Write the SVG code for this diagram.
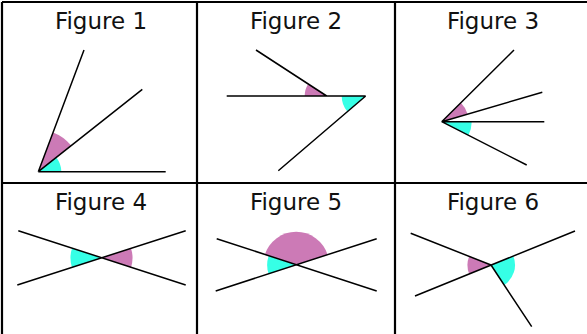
<svg xmlns="http://www.w3.org/2000/svg" width="587" height="334" viewBox="0 0 587 334">
<style>
.grid{stroke:#000;stroke-width:2.2;fill:none}
.ln{stroke:#000;stroke-width:1.5;fill:none;stroke-linecap:butt}
.c{fill:#36FFE6}
.m{fill:#CC7AB6}
.t{font-family:"DejaVu Sans",Verdana,sans-serif;font-size:23px;fill:#111;text-anchor:middle}
</style>
<rect width="587" height="334" fill="#fff"/>
<g id="grid">
<path class="grid" d="M2,2H587M2,2V334M197,2V334M395,2V334M2,183H587"/>
</g>
<g id="fig1">
<text class="t" x="101" y="29">Figure 1</text>
<path class="c" d="M38.3,171.7L61.3,171.7A23,23 0 0 0 56.3,157.4Z"/>
<path class="m" d="M38.3,171.7L71.2,145.6A42,42 0 0 0 53.1,132.4Z"/>
<path class="ln" d="M38.3,171.7H165.7M38.3,171.7L84,50M38.3,171.7L142.3,89.3"/>
</g>
<g id="fig2">
<text class="t" x="296" y="29">Figure 2</text>
<path class="m" d="M326.7,96L308.2,84A22,22 0 0 0 304.7,96Z"/>
<path class="c" d="M365.7,96L341.7,96A24,24 0 0 0 347.4,111.6Z"/>
<path class="ln" d="M226.7,96H365.7M256,50L326.7,96M365.7,96L278.3,170.7"/>
</g>
<g id="fig3">
<text class="t" x="493" y="29">Figure 3</text>
<path class="m" d="M441.7,121.7L467.6,114.1A27,27 0 0 0 460.9,102.7Z"/>
<path class="c" d="M441.7,121.7L471.7,121.7A30,30 0 0 1 468.4,135.3Z"/>
<path class="ln" d="M441.7,121.7L514,50M441.7,121.7L542.3,92.3M441.7,121.7H544.3M441.7,121.7L526.7,165"/>
</g>
<g id="fig4">
<text class="t" x="101" y="210">Figure 4</text>
<path class="c" d="M101.5,257.8L72,248.2A31,31 0 0 0 72,267.4Z"/>
<path class="m" d="M101.5,257.8L131,267.4A31,31 0 0 0 131,248.2Z"/>
<path class="ln" d="M18.3,230.7L185.7,285M17.3,285L185.7,230.7"/>
</g>
<g id="fig5">
<text class="t" x="296" y="210">Figure 5</text>
<path class="m" d="M296.2,264.9L327.6,254.7A33,33 0 0 0 264.8,254.7Z"/>
<path class="c" d="M296.2,264.9L268.6,255.9A29,29 0 0 0 268.6,273.9Z"/>
<path class="ln" d="M216.7,238.7L376.7,291M215.7,291L376.7,238.7"/>
</g>
<g id="fig6">
<text class="t" x="493" y="210">Figure 6</text>
<path class="m" d="M491,265L469.1,256.4A23.5,23.5 0 0 0 469.2,273.9Z"/>
<path class="c" d="M491,265L513.3,256A24,24 0 0 1 504.2,285Z"/>
<path class="ln" d="M410.7,233.3L491,265M415,296L575,231M491,265L531.7,326.7"/>
</g>
</svg>
